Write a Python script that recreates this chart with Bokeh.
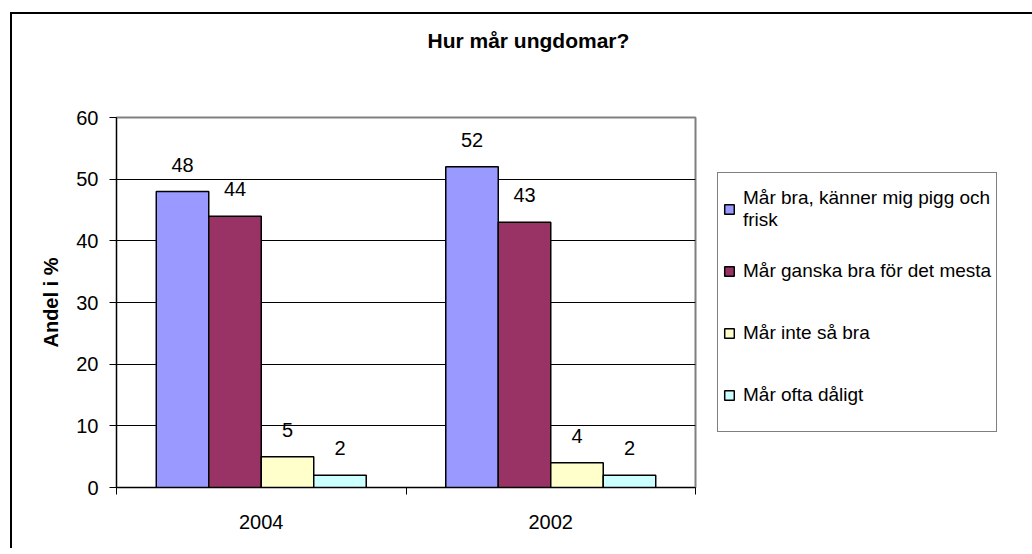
from bokeh.plotting import figure
from bokeh.models import (ColumnDataSource, Range1d, FixedTicker, LabelSet, Legend, LegendItem, Title)
from bokeh.core.properties import value
from bokeh.transform import dodge
from bokeh.embed import file_html
from bokeh.resources import INLINE

years = ["2004", "2002"]
series_names = ["Mår bra, känner mig pigg och\nfrisk", "Mår ganska bra för det mesta",
                "Mår inte så bra", "Mår ofta dåligt"]
mar_bra = [48, 52]
ganska_bra = [44, 43]
inte_sa_bra = [5, 4]
ofta_daligt = [2, 2]
y_ticks = [0, 10, 20, 30, 40, 50, 60]
colors = ["#9999FF", "#993366", "#FFFFCC", "#CCFFFF"]
FONT = "Liberation Sans"
TITLE = "Hur mår ungdomar?"

xpos = [i + 0.5 for i in range(len(years))]
src = ColumnDataSource(dict(x=xpos, s0=mar_bra, s1=ganska_bra, s2=inte_sa_bra, s3=ofta_daligt,
                            l0=[str(v) for v in mar_bra], l1=[str(v) for v in ganska_bra],
                            l2=[str(v) for v in inte_sa_bra], l3=[str(v) for v in ofta_daligt]))

p = figure(frame_width=579, frame_height=370, output_backend="svg", toolbar_location=None,
           title=None,
           x_range=Range1d(0, len(years)), y_range=Range1d(0, 60),
           min_border_left=104, min_border_right=310, min_border_top=103, min_border_bottom=63)
p.styles = {"margin-left": "12px", "margin-top": "14px",
            "box-shadow": "-2px -2px 0px 0px black"}

spacer = Title(text=" ", align="center", text_font=FONT, text_font_size="15px", standoff=42)
p.add_layout(spacer, "above")
main_title = Title(text=TITLE, align="left", offset=311, text_font=FONT, text_font_size="21px",
                   text_font_style="bold", text_color="black", standoff=10)
p.add_layout(main_title, "above")

p.outline_line_color = "#808080"
p.outline_line_width = 2
p.background_fill_color = "white"
p.border_fill_color = "white"

bw = 0.1813
offsets = [-1.5 * bw, -0.5 * bw, 0.5 * bw, 1.5 * bw]
items = []
for i in range(4):
    r = p.vbar(x=dodge("x", offsets[i]), top="s%d" % i, width=bw, source=src,
               fill_color=colors[i], line_color="black", line_width=1.5)
    items.append(LegendItem(label=series_names[i], renderers=[r]))
    lab = LabelSet(x=dodge("x", offsets[i]), y="s%d" % i, text="l%d" % i, source=src,
                   text_align="center", text_baseline="bottom", y_offset=20,
                   text_font=value(FONT), text_font_size="20px", text_color="black")
    p.add_layout(lab)

xa = p.xaxis[0]
xa.ticker = FixedTicker(ticks=xpos, minor_ticks=list(range(len(years) + 1)))
xa.major_label_overrides = {x: y for x, y in zip(xpos, years)}
xa.major_tick_line_color = None
xa.major_tick_out = 0
xa.major_tick_in = 0
xa.minor_tick_out = 7
xa.minor_tick_in = 0
xa.minor_tick_line_color = "black"
xa.major_label_standoff = 20
xa.axis_line_color = "black"
xa.major_label_text_font = FONT
xa.major_label_text_font_size = "20px"
xa.major_label_text_color = "black"

ya = p.yaxis[0]
ya.ticker = FixedTicker(ticks=y_ticks)
ya.major_tick_out = 7
ya.major_tick_in = 0
ya.minor_tick_line_color = None
ya.major_tick_line_color = "black"
ya.axis_line_color = "black"
ya.major_label_standoff = 11
ya.major_label_text_font = FONT
ya.major_label_text_font_size = "20px"
ya.major_label_text_color = "black"
ya.axis_label = "Andel i %"
ya.axis_label_text_font = FONT
ya.axis_label_text_font_size = "20px"
ya.axis_label_text_font_style = "bold"
ya.axis_label_text_color = "black"
ya.axis_label_standoff = 11

p.xgrid.grid_line_color = None
p.ygrid.grid_line_color = "black"
p.ygrid.grid_line_width = 1

legend = Legend(items=items, location="center_left", orientation="vertical",
                border_line_color="black", border_line_width=1,
                background_fill_color="white", background_fill_alpha=1,
                label_text_font=FONT, label_text_font_size="19px", label_text_color="black",
                label_text_line_height=1.4,
                glyph_width=12, glyph_height=12, label_standoff=8,
                padding=5, spacing=0, label_height=62, margin=22)
p.add_layout(legend, "right")

open("out.html", "w").write(file_html(p, INLINE))
